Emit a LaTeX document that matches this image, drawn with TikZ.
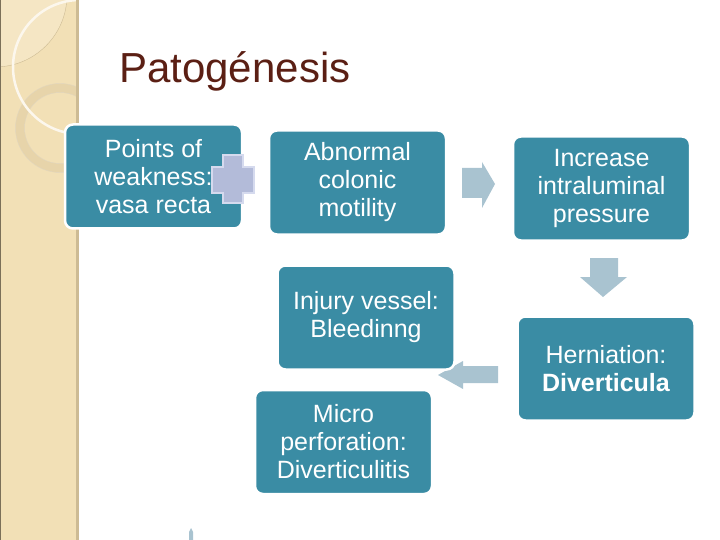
\documentclass[tikz,border=0pt]{standalone}
\usepackage{fontspec}
\setmainfont{Liberation Sans}
\definecolor{teal}{HTML}{3A8CA4}
\definecolor{arrowc}{HTML}{A9C3D0}
\definecolor{titlec}{HTML}{5B1F14}
\definecolor{stripc}{HTML}{F2E0B6}
\definecolor{stripedge}{HTML}{CDBB94}
\definecolor{plusc}{HTML}{B3BBD9}
\definecolor{plusedge}{HTML}{D5DAEE}
\definecolor{ringc}{HTML}{E7D4AA}
\definecolor{lightc}{HTML}{F5E6C4}
\begin{document}
\begin{tikzpicture}[x=1pt,y=-1pt,
  box/.style={draw=white, line width=2.5pt, fill=teal, rounded corners=8pt,
    minimum width=177pt, minimum height=104pt, text=white, align=center,
    inner sep=0pt, font=\fontsize{25}{28}\selectfont},
  blockarrow/.style={fill=arrowc, draw=none}]
\useasboundingbox (0,0) rectangle (720,540);
\fill[white] (0,0) rectangle (720,540);
% left decorative strip
\fill[stripc] (0,0) rectangle (78,540);
\begin{scope}
  \clip (0,0) rectangle (76,540);
  \fill[lightc] (-5,-5) circle (72);
  \draw[stripedge, line width=0.4pt] (-5,-5) circle (72);
  \draw[ringc, line width=9pt] (60,128) circle (40);
  \draw[stripedge!60, line width=0.4pt] (60,128) circle (44.5);
  \draw[stripedge!60, line width=0.4pt] (60,128) circle (35.5);
  \draw[white!75!stripc, line width=2.5pt] (80,67) circle (67);
\end{scope}
\fill[stripedge] (76,0) rectangle (78.5,540);
\fill[stripedge!60!black] (0,0) rectangle (1.2,540);
% title
\node[anchor=base west, text=titlec, font=\fontsize{42}{48}\selectfont, inner sep=0pt] (title) at (119,83) {Patogénesis};
% block arrows (behind boxes)
\fill[blockarrow] (462,168) -- (482,168) -- (482,162) -- (495,184) -- (482,208) -- (482,198) -- (462,198) -- cycle;
\fill[blockarrow] (590,258) -- (618,258) -- (618,277) -- (627,277) -- (603,297) -- (580,277) -- (590,277) -- cycle;
\fill[blockarrow] (498,366) -- (463,366) -- (463,361) -- (438,375) -- (463,389) -- (463,383) -- (498,383) -- cycle;
\fill[arrowc] (189,540) -- (189,532) -- (191,528) -- (193,532) -- (193,540) -- cycle;
% boxes
\node[box] (weak) at (153.5,176.5) {Points of\\weakness:\\vasa recta};
\node[box] (motil) at (357.5,182.5) {Abnormal\\colonic\\motility};
\node[box] (press) at (601.5,188.5) {Increase\\intraluminal\\pressure};
\node[box] (hern) at (606,368.5) {Herniation:\\\textbf{Diverticula}};
\node[box] (injury) at (366,317.5) {Injury vessel:\\Bleedinng};
\node[box] (micro) at (343.5,442) {Micro\\perforation:\\Diverticulitis};
% plus sign
\draw[fill=plusc, draw=plusedge, line width=1.5pt]
  (223,155) -- (243,155) -- (243,167) -- (254,167) -- (254,193) -- (243,193) -- (243,203)
  -- (223,203) -- (223,193) -- (212,193) -- (212,167) -- (223,167) -- cycle;
\end{tikzpicture}
\end{document}
